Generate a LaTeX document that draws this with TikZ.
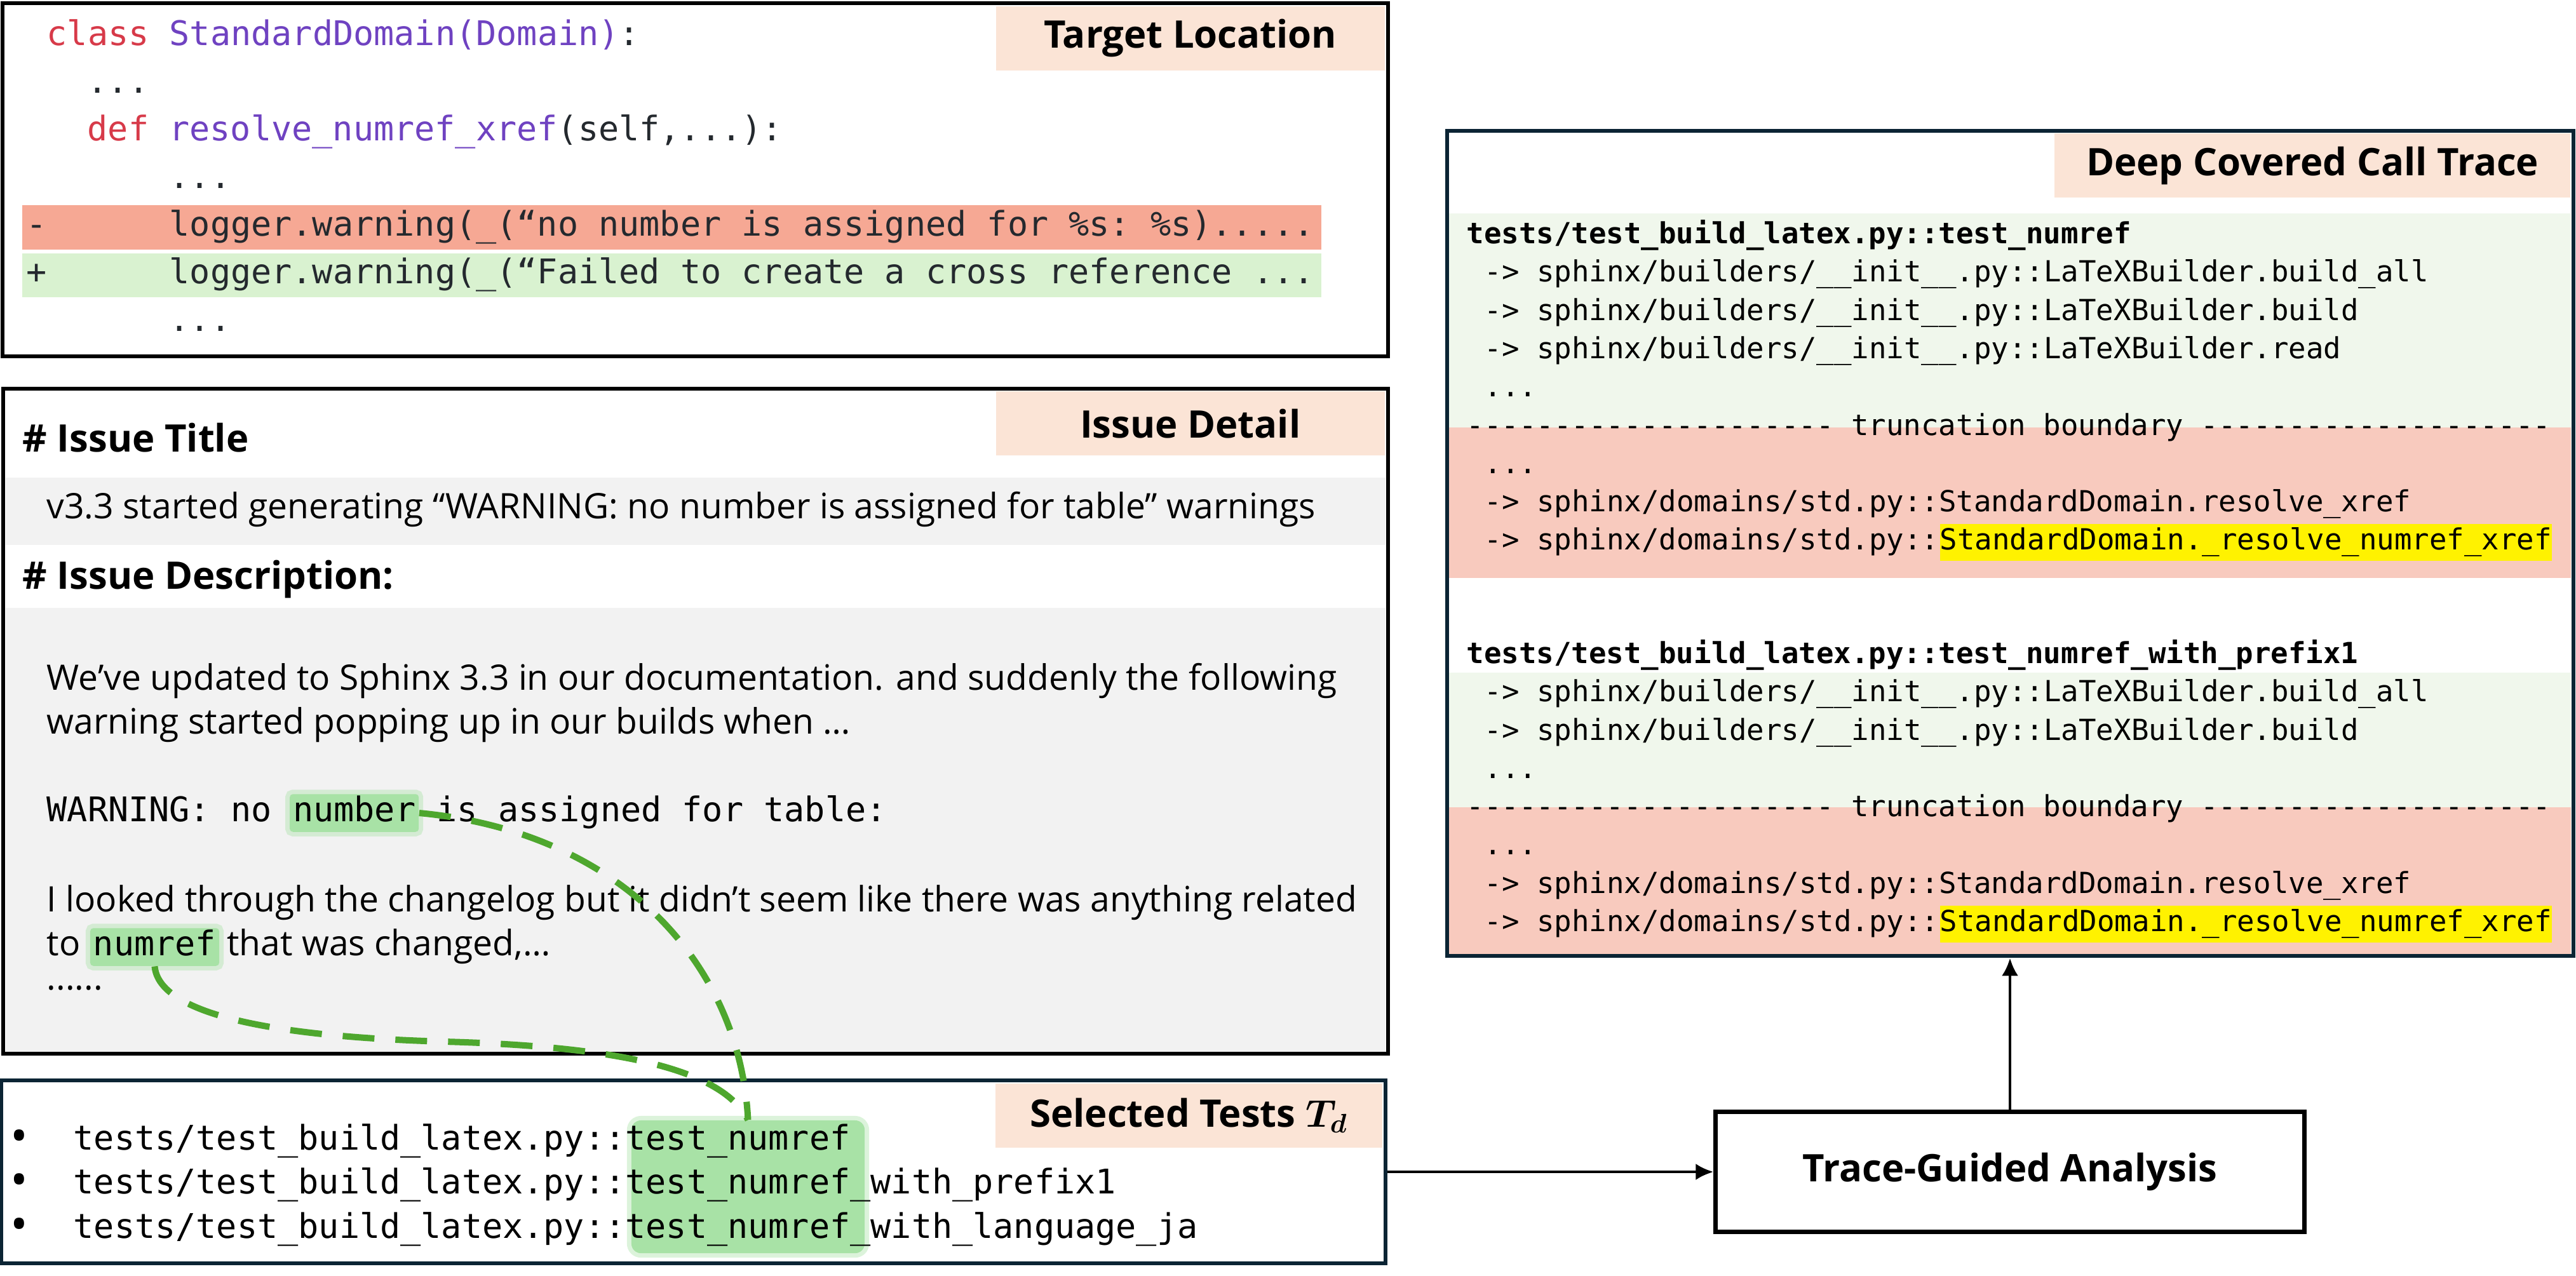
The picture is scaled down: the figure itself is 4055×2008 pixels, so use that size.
\documentclass[tikz,border=0pt]{standalone}
\usepackage{amsmath}
\usepackage{fontspec}
\setmainfont{Open Sans}
\setmonofont{DejaVu Sans Mono}
\usetikzlibrary{arrows.meta}

\definecolor{labelpink}{HTML}{FBE4D6}
\definecolor{kwred}{HTML}{D73A49}
\definecolor{fnpurple}{HTML}{6F42C1}
\definecolor{codeink}{HTML}{24292E}
\definecolor{delband}{HTML}{F6A894}
\definecolor{addband}{HTML}{D9F2D0}
\definecolor{issuegray}{HTML}{F2F2F2}
\definecolor{keepgreen}{HTML}{F0F7EC}
\definecolor{droppink}{HTML}{F8CABE}
\definecolor{boxnavy}{HTML}{0B2434}
\definecolor{hlgreen}{HTML}{A8E2A6}
\definecolor{linkgreen}{HTML}{4EA72E}

\newcommand\dashrun[1]{\foreach\k in {1,...,#1}{-\kern0pt}}

\tikzset{
  panel/.style={draw, line width=0.06cm, inner sep=0pt},
  tag/.style={fill=labelpink, anchor=north east, inner sep=0pt, minimum height=1.01cm,
    font=\fontsize{17}{20}\selectfont\bfseries},
  code/.style={anchor=west, inner sep=0pt, text height=11.4pt, text depth=3.8pt,
    font=\fontsize{15.2}{18}\ttfamily, text=codeink},
  trace/.style={anchor=west, inner sep=0pt, text height=9.75pt, text depth=3.25pt,
    font=\fontsize{13}{15}\ttfamily},
  prose/.style={anchor=west, inner sep=0pt, text height=11.7pt, text depth=3.9pt,
    font=\fontsize{15.7}{18}\selectfont},
  bullet/.style={inner sep=0pt, font=\fontsize{21}{21}\selectfont},
  heading/.style={anchor=west, inner sep=0pt, font=\fontsize{17}{20}\selectfont\bfseries},
  hl/.style={fill=hlgreen, rounded corners=0.05cm, inner xsep=0.05cm, inner ysep=0.03cm,
    preaction={draw=hlgreen, draw opacity=0.4, line width=0.14cm}},
  link/.style={linkgreen, line width=0.1cm, dash pattern=on 0.5cm off 0.33cm},
  flow/.style={line width=0.045cm, -{Latex[length=0.28cm,width=0.26cm]}}
}

\begin{document}
\begin{tikzpicture}[x=0.01cm,y=-0.01cm]
\useasboundingbox (0,0) rectangle (4055,2008);

\fill[delband] (35,323) rectangle (2080,393);
\fill[addband] (35,399) rectangle (2080,468);
\fill[issuegray] (9,752) rectangle (2181,858);
\fill[issuegray] (9,957) rectangle (2181,1656);
\fill[keepgreen] (2281,336) rectangle (4047,673);
\fill[droppink] (2281,673) rectangle (4047,910);
\fill[keepgreen] (2281,1059) rectangle (4047,1271);
\fill[droppink] (2281,1271) rectangle (4047,1502);

\node[panel, minimum width=21.79cm, minimum height=5.56cm] (tgt) at (1094.5,283) {};
\node[panel, minimum width=21.78cm, minimum height=10.47cm] (iss) at (1095,1135.5) {};
\node[panel, draw=boxnavy, minimum width=21.77cm, minimum height=2.88cm] (sel) at (1091.5,1845) {};
\node[panel, draw=boxnavy, minimum width=17.72cm, minimum height=12.99cm] (trace) at (3164,855.5) {};
\node[panel, line width=0.07cm, minimum width=9.26cm, minimum height=1.89cm,
  font=\fontsize{17}{20}\selectfont\bfseries] (tga) at (3164,1845) {Trace-Guided Analysis};

\node[tag, minimum width=6.12cm] (tgttag) at ([xshift=-0.07cm,yshift=-0.07cm]tgt.north east) {Target Location};
\node[tag, minimum width=6.12cm] (isstag) at ([xshift=-0.07cm,yshift=-0.07cm]iss.north east) {Issue Detail};
\node[tag, minimum width=6.09cm] (seltag) at ([xshift=-0.07cm,yshift=-0.07cm]sel.north east) {Selected Tests $\boldsymbol{T_d}$};
\node[tag, minimum width=8.11cm] (tracetag) at ([xshift=-0.07cm,yshift=-0.07cm]trace.north east) {Deep Covered Call Trace};

\node[code] (c1) at (73,58) {{\color{kwred}class} {\color{fnpurple}StandardDomain(Domain)}:};
\node[code] (c2) at (137,133) {...};
\node[code] (c3) at (137,208) {{\color{kwred}def} {\color{fnpurple}resolve\_numref\_xref}(self,...):};
\node[code] (c4) at (266,283) {...};
\node[code] (c5m) at (41,358) {-};
\node[code] (c5) at (266,358) {logger.warning(\_(“no number is assigned for \%s: \%s).....};
\node[code] (c6p) at (41,433) {+};
\node[code] (c6) at (266,433) {logger.warning(\_(“Failed to create a cross reference ...};
\node[code] (c7) at (266,508) {...};

\node[heading] (ititle) at (35,689) {\# Issue Title};
\node[prose] (ttl) at (73,803) {v3.3 started generating “WARNING: no number is assigned for table” warnings};
\node[heading] (idesc) at (35,912) {\# Issue Description:};
\node[prose] (d1) at (73,1073) {We’ve updated to Sphinx 3.3 in our documentation. and suddenly the following};
\node[prose] (d2) at (73,1142) {warning started popping up in our builds when …};
\node[code, text=black] (d3a) at (73,1280) {WARNING: no};
\node[code, hl, text=black] (number) at ([xshift=0.27cm]d3a.east) {number};
\node[code, text=black] (d3b) at ([xshift=0.27cm]number.east) {is assigned for table:};
\node[prose] (d4) at (73,1422) {I looked through the changelog but it didn’t seem like there was anything related};
\node[prose] (d5a) at (73,1491) {to};
\node[code, hl, text=black] (numref) at ([xshift=0.14cm]d5a.east) {numref};
\node[prose] (d5b) at ([xshift=0.11cm]numref.east) {that was changed,…};
\node[prose] (d6) at (73,1545) {......};

\node[hl, rounded corners=0.15cm, minimum width=3.67cm, minimum height=2.09cm] (tnum) at (1177.5,1868.5) {};
\foreach \y in {1797,1866,1936}
  \node[bullet] at (30,\y) {•};
\node[code, text=black] (s1) at (115,1797) {tests/test\_build\_latex.py::test\_numref};
\node[code, text=black] (s2) at (115,1866) {tests/test\_build\_latex.py::test\_numref\_with\_prefix1};
\node[code, text=black] (s3) at (115,1936) {tests/test\_build\_latex.py::test\_numref\_with\_language\_ja};

\node[trace, font=\fontsize{13}{15}\ttfamily\bfseries] (ta0) at (2308,372) {tests/test\_build\_latex.py::test\_numref};
\node[trace] (ta1) at (2336,432) {-> sphinx/builders/\_\_init\_\_.py::LaTeXBuilder.build\_all};
\node[trace] (ta2) at (2336,493) {-> sphinx/builders/\_\_init\_\_.py::LaTeXBuilder.build};
\node[trace] (ta3) at (2336,553) {-> sphinx/builders/\_\_init\_\_.py::LaTeXBuilder.read};
\node[trace] (ta4) at (2336,613) {...};
\node[trace] (ta5) at (2308,674) {\dashrun{21} truncation boundary \dashrun{20}};
\node[trace] (ta6) at (2336,734) {...};
\node[trace] (ta7) at (2336,794) {-> sphinx/domains/std.py::StandardDomain.resolve\_xref};
\node[trace] (ta8) at (2336,854) {-> sphinx/domains/std.py::};
\node[trace, fill=yellow, inner ysep=0.06cm] (ta9) at (ta8.east) {StandardDomain.\_resolve\_numref\_xref};

\node[trace, font=\fontsize{13}{15}\ttfamily\bfseries] (tb0) at (2308,1033) {tests/test\_build\_latex.py::test\_numref\_with\_prefix1};
\node[trace] (tb1) at (2336,1093) {-> sphinx/builders/\_\_init\_\_.py::LaTeXBuilder.build\_all};
\node[trace] (tb2) at (2336,1154) {-> sphinx/builders/\_\_init\_\_.py::LaTeXBuilder.build};
\node[trace] (tb3) at (2336,1214) {...};
\node[trace] (tb4) at (2308,1274) {\dashrun{21} truncation boundary \dashrun{20}};
\node[trace] (tb5) at (2336,1334) {...};
\node[trace] (tb6) at (2336,1395) {-> sphinx/domains/std.py::StandardDomain.resolve\_xref};
\node[trace] (tb7) at (2336,1455) {-> sphinx/domains/std.py::};
\node[trace, fill=yellow, inner ysep=0.06cm] (tb8) at (tb7.east) {StandardDomain.\_resolve\_numref\_xref};

\draw[link] (number.east) .. controls (980,1310) and (1165,1520) .. (tnum.north);
\draw[link] (numref.south) .. controls (250,1595) and (420,1632) .. (700,1640)
  .. controls (1000,1648) and (1140,1690) .. (tnum.north);

\draw[flow] (sel) -- (tga);
\draw[flow] (tga) -- (trace);
\end{tikzpicture}
\end{document}
